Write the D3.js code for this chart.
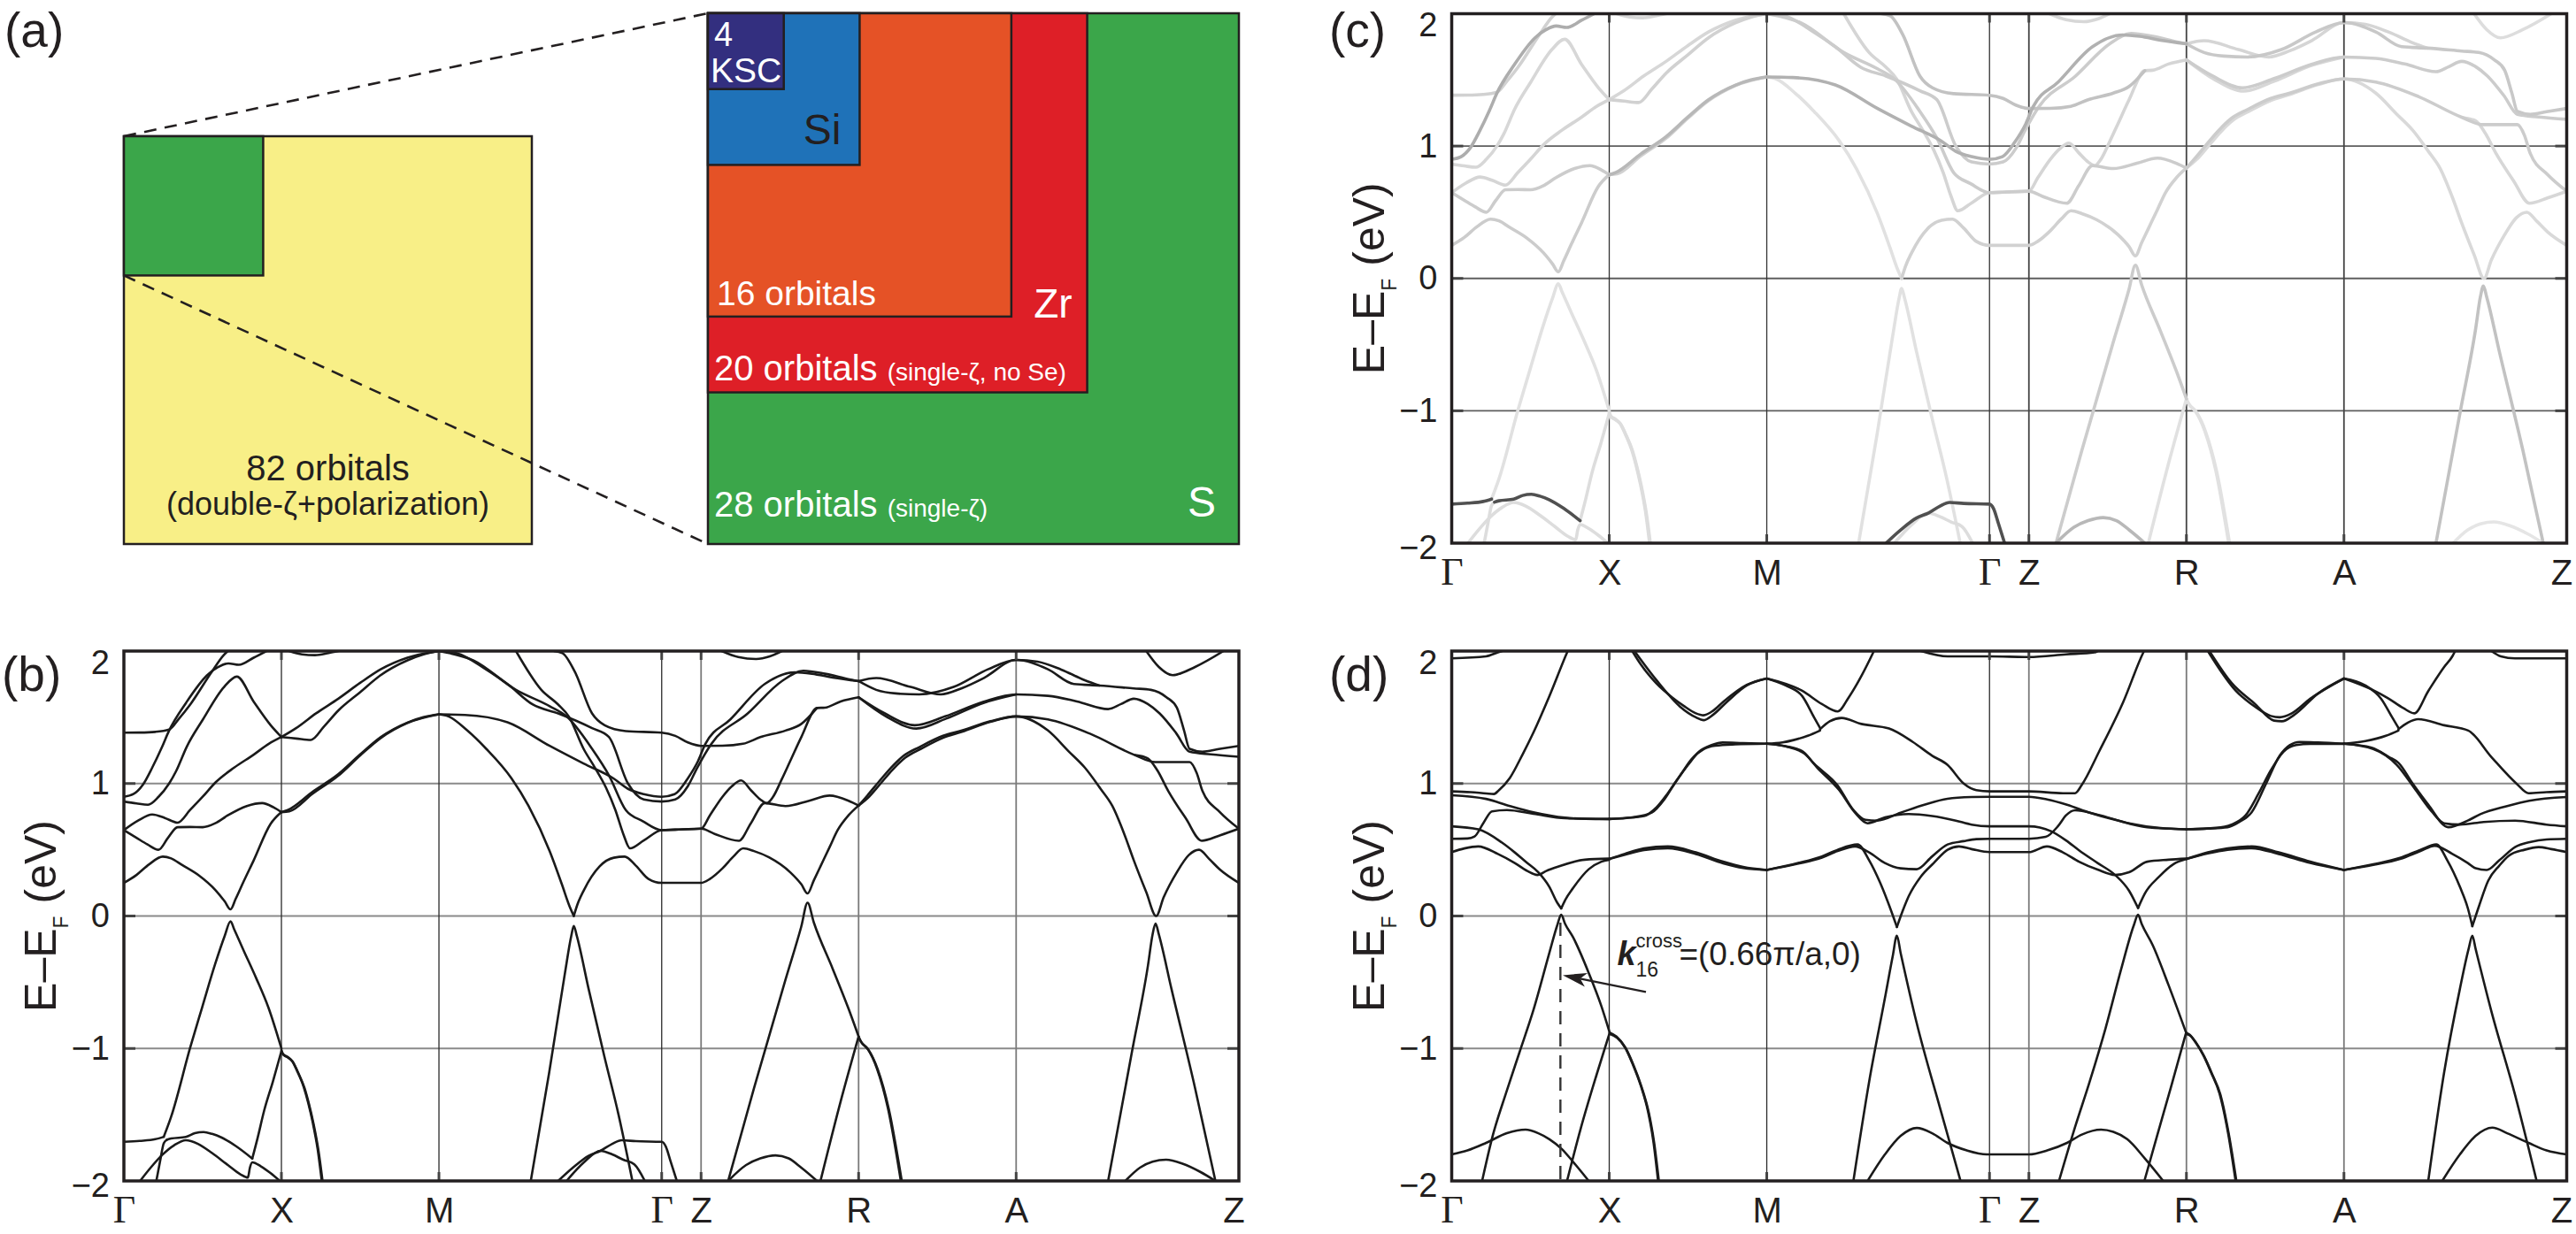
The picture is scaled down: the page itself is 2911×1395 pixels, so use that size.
<!DOCTYPE html>
<html><head><meta charset="utf-8">
<script src="https://cdn.jsdelivr.net/npm/d3@7/dist/d3.min.js"></script>
<style>
html,body{margin:0;padding:0;background:#fff;}
svg{display:block;}
</style></head><body>
<svg id="fig" width="2911" height="1395"></svg>
<script>
// ---------------- DATA ----------------
// k-path (in units of pi/a): Γ X M Γ Z R A Z
const kTicks  = [0, 1, 2, 3.414, 3.664, 4.664, 5.664, 7.078];
const kLabels = ["Γ","X","M","Γ","Z","R","A","Z"];
const eTicks  = [-2, -1, 0, 1, 2];
const eLabels = ["−2","−1","0","1","2"];

// panel (a): nested orbital blocks (number of orbitals per block)
const blockOrbitals = [28, 20, 16, 8, 4];
const blockColors   = ["#3ba64a", "#de1f27", "#e55226", "#1f72b8", "#332f7f"];
const totalOrbitals = 82;
const selectedOrbitals = 28;

// panel (b): bands [k, E-EF (eV)]
const bandsB = [
 [[0,-1.705],[0.1,-1.698],[0.2,-1.685],[0.253,-1.667]],
 [[0.253,-1.667],[0.30,-1.515],[0.421,-0.993],[0.496,-0.693],[0.58,-0.36],[0.64,-0.15],[0.677,-0.04],[0.70,-0.10],[0.76,-0.26],[0.84,-0.47],[0.918,-0.693],[1.0,-1.0]],
 [[1.0,-1.01],[1.011,-1.045],[1.035,-1.06],[1.067,-1.093],[1.10,-1.17],[1.142,-1.293],[1.17,-1.41],[1.199,-1.56],[1.23,-1.76],[1.256,-2.0]],
 [[1.0,-1.02],[1.015,-1.05],[1.04,-1.068],[1.072,-1.10],[1.105,-1.18],[1.147,-1.30],[1.175,-1.42],[1.204,-1.57],[1.235,-1.77],[1.261,-2.0]],
 [[0.206,-2.0],[0.23,-1.85],[0.253,-1.716],[0.272,-1.69]],
 [[0.272,-1.69],[0.30,-1.68],[0.393,-1.668],[0.45,-1.64],[0.506,-1.631],[0.56,-1.645],[0.618,-1.671],[0.712,-1.738],[0.815,-1.831]],
 [[0.815,-1.831],[0.85,-1.67],[0.89,-1.471],[0.946,-1.249],[1.0,-1.02]],
 [[0.103,-2.0],[0.17,-1.90],[0.243,-1.804],[0.32,-1.73],[0.393,-1.693],[0.47,-1.72],[0.56,-1.79],[0.66,-1.88],[0.74,-1.95],[0.787,-1.975],[0.80,-1.90],[0.815,-1.86],[0.87,-1.89],[0.93,-1.94],[0.99,-2.0]],
 [[0,0.25],[0.08,0.31],[0.16,0.39],[0.247,0.448],[0.30,0.435],[0.368,0.386],[0.475,0.307],[0.583,0.193],[0.64,0.11],[0.677,0.05],[0.71,0.13],[0.76,0.26],[0.824,0.42],[0.93,0.693],[1.0,0.784]],
 [[0,0.648],[0.08,0.59],[0.15,0.54],[0.22,0.50],[0.28,0.59],[0.341,0.67],[0.42,0.672],[0.5,0.67],[0.58,0.70],[0.66,0.76],[0.78,0.83],[0.878,0.852],[0.95,0.82],[1.0,0.784]],
 [[0,0.648],[0.09,0.72],[0.18,0.766],[0.26,0.74],[0.341,0.705],[0.42,0.80],[0.50,0.90],[0.583,1.01],[0.70,1.12],[0.824,1.218],[0.92,1.30],[1.0,1.351]],
 [[0,0.90],[0.06,0.92],[0.12,0.99],[0.18,1.12],[0.24,1.27],[0.287,1.40],[0.395,1.61],[0.529,1.818],[0.60,1.88],[0.663,1.907],[0.73,1.896],[0.824,1.95],[0.905,2.0]],
 [[0,0.864],[0.08,0.85],[0.153,0.84],[0.22,0.90],[0.287,1.0],[0.33,1.09],[0.40,1.28],[0.502,1.484],[0.636,1.729],[0.717,1.807],[0.824,1.618],[0.932,1.44],[1.0,1.351]],
 [[0,1.384],[0.1,1.385],[0.2,1.39],[0.287,1.407],[0.35,1.49],[0.421,1.596],[0.556,1.84],[0.636,1.973],[0.66,2.0]],
 [[1.0,0.784],[1.04,0.80],[1.2,0.94],[1.36,1.07],[1.5,1.22],[1.63,1.35],[1.8,1.46],[1.9,1.50],[2.0,1.522]],
 [[1.0,0.784],[1.05,0.79],[1.2,0.925],[1.36,1.058],[1.5,1.212],[1.63,1.343],[1.8,1.457],[2.0,1.522]],
 [[1.0,1.351],[1.093,1.418],[1.22,1.53],[1.361,1.64],[1.5,1.76],[1.63,1.862],[1.8,1.95],[2.0,2.0]],
 [[1.0,1.351],[1.093,1.34],[1.187,1.329],[1.27,1.43],[1.361,1.551],[1.5,1.69],[1.63,1.818],[1.8,1.93],[1.898,1.973],[2.0,2.0]],
 [[1.05,2.0],[1.13,1.975],[1.213,1.969],[1.3,1.985],[1.36,2.0]],
 [[2.0,1.522],[2.06,1.507],[2.18,1.40],[2.30,1.262],[2.46,1.04],[2.569,0.83],[2.703,0.489],[2.78,0.24],[2.83,0.07],[2.856,0.0]],
 [[2.856,0.0],[2.88,0.09],[2.92,0.195],[3.02,0.375],[3.11,0.44],[3.179,0.448],[3.25,0.38],[3.33,0.28],[3.414,0.25],[3.55,0.25],[3.664,0.25],[3.72,0.28],[3.8,0.36],[3.87,0.45],[3.932,0.511],[4.0,0.49],[4.095,0.443],[4.23,0.33],[4.30,0.24],[4.34,0.17],[4.38,0.27],[4.422,0.375],[4.48,0.52],[4.531,0.648],[4.60,0.76],[4.664,0.834]],
 [[2.0,1.522],[2.166,1.518],[2.435,1.462],[2.703,1.284],[2.918,1.151],[3.106,1.04],[3.2,0.96],[3.3,0.92],[3.414,0.90],[3.496,0.92],[3.577,1.034],[3.645,1.17],[3.69,1.296],[3.85,1.484],[4.068,1.751],[4.259,1.84],[4.368,1.829],[4.50,1.80],[4.664,1.773]],
 [[2.0,2.0],[2.22,1.929],[2.489,1.707],[2.703,1.584],[2.81,1.507],[2.972,1.262],[3.08,1.06],[3.186,0.80],[3.294,0.716],[3.414,0.648],[3.5,0.652],[3.664,0.659],[3.75,0.62],[3.904,0.568],[3.98,0.70],[4.068,0.852],[4.2,0.83],[4.35,0.87],[4.48,0.909],[4.6,0.87],[4.664,0.834]],
 [[2.489,2.0],[2.65,1.707],[2.757,1.596],[2.824,1.507],[2.918,1.262],[2.99,1.12],[3.06,0.97],[3.12,0.80],[3.17,0.62],[3.213,0.511],[3.30,0.57],[3.414,0.648],[3.5,0.652],[3.664,0.659],[3.72,0.76],[3.80,0.90],[3.86,0.98],[3.918,1.023],[3.98,0.95],[4.04,0.88],[4.082,0.852],[4.12,0.898],[4.177,1.034],[4.23,1.17],[4.30,1.35],[4.40,1.57],[4.45,1.573],[4.55,1.62],[4.664,1.651]],
 [[2.0,2.0],[2.113,1.984],[2.3,1.86],[2.435,1.751],[2.596,1.596],[2.757,1.529],[2.972,1.418],[3.079,1.351],[3.2,1.0],[3.3,0.88],[3.414,0.864],[3.50,0.88],[3.58,0.98],[3.64,1.12],[3.727,1.296],[3.96,1.529],[4.177,1.773],[4.313,1.851],[4.45,1.829],[4.613,1.784],[4.664,1.773]],
 [[2.73,2.0],[2.784,1.984],[2.864,1.84],[2.972,1.529],[3.052,1.44],[3.186,1.396],[3.414,1.384],[3.5,1.36],[3.58,1.31],[3.664,1.284],[3.80,1.285],[3.93,1.30],[4.04,1.35],[4.20,1.40],[4.30,1.45],[4.40,1.57]],
 [[3.795,2.0],[3.90,1.955],[4.013,1.94],[4.10,1.96],[4.177,2.0]],
 [[2.757,-2.0],[2.85,-1.90],[2.95,-1.81],[3.025,-1.773],[3.10,-1.72],[3.16,-1.693],[3.25,-1.70],[3.414,-1.705],[3.44,-1.74],[3.47,-1.85],[3.51,-2.0]],
 [[2.81,-2.0],[2.92,-1.86],[3.025,-1.773],[3.10,-1.80],[3.17,-1.84],[3.24,-1.875],[3.307,-2.0]],
 [[2.583,-2.0],[2.70,-1.18],[2.80,-0.43],[2.84,-0.15],[2.856,-0.075],[2.875,-0.15],[2.95,-0.55],[3.05,-1.06],[3.14,-1.50],[3.228,-2.0]],
 [[3.836,-2.0],[4.0,-1.30],[4.2,-0.48],[4.30,-0.08],[4.34,0.10],[4.38,-0.05],[4.5,-0.40],[4.6,-0.70],[4.664,-0.91]],
 [[4.664,-0.91],[4.68,-0.95],[4.72,-1.0],[4.78,-1.15],[4.85,-1.45],[4.932,-2.0]],
 [[4.664,-0.92],[4.686,-0.96],[4.726,-1.01],[4.786,-1.16],[4.856,-1.46],[4.938,-2.0]],
 [[4.422,-2.0],[4.55,-1.40],[4.664,-0.91]],
 [[3.836,-2.0],[3.95,-1.88],[4.04,-1.83],[4.136,-1.807],[4.22,-1.83],[4.30,-1.90],[4.40,-2.0]],
 [[6.248,-2.0],[6.40,-1.02],[6.50,-0.38],[6.53,-0.14],[6.549,-0.057],[6.57,-0.14],[6.65,-0.55],[6.80,-1.30],[6.929,-2.0]],
 [[6.357,-2.0],[6.45,-1.90],[6.53,-1.855],[6.616,-1.84],[6.72,-1.87],[6.83,-1.93],[6.929,-2.0]],
 [[4.664,1.773],[4.776,1.707],[4.9,1.68],[5.049,1.673],[5.267,1.729],[5.485,1.862],[5.664,1.933],[5.866,1.862],[6.03,1.751],[6.193,1.74],[6.411,1.718],[6.52,1.707],[6.62,1.65],[6.684,1.573],[6.73,1.40],[6.765,1.262],[6.847,1.24],[6.95,1.26],[7.078,1.284]],
 [[4.664,1.773],[4.776,1.796],[4.994,1.729],[5.185,1.673],[5.32,1.72],[5.458,1.796],[5.664,1.933],[5.80,1.92],[5.95,1.86],[6.10,1.78],[6.193,1.74]],
 [[4.664,1.651],[4.831,1.529],[5.02,1.44],[5.213,1.507],[5.458,1.618],[5.664,1.673],[5.866,1.662],[6.05,1.62],[6.248,1.562],[6.33,1.60],[6.411,1.64],[6.50,1.60],[6.575,1.529],[6.68,1.38],[6.765,1.24],[6.9,1.22],[7.078,1.202]],
 [[4.664,1.651],[4.84,1.505],[5.03,1.415],[5.22,1.49],[5.46,1.61],[5.664,1.673]],
 [[4.664,0.834],[4.72,0.91],[4.79,1.01],[4.87,1.12],[4.95,1.21],[5.05,1.275],[5.2,1.36],[5.32,1.40],[5.5,1.47],[5.664,1.507],[5.866,1.484],[6.139,1.373],[6.411,1.218],[6.547,1.162],[6.765,1.162],[6.81,1.08],[6.847,0.943],[6.956,0.786],[7.078,0.659]],
 [[4.664,0.834],[4.73,0.90],[4.80,0.995],[4.88,1.105],[4.96,1.195],[5.06,1.262],[5.2,1.345],[5.32,1.39],[5.5,1.465],[5.664,1.507],[5.866,1.40],[6.0,1.24],[6.1,1.12],[6.2,0.96],[6.275,0.83],[6.35,0.62],[6.411,0.42],[6.49,0.18],[6.553,0.0],[6.6,0.14],[6.684,0.33],[6.76,0.46],[6.825,0.50],[6.89,0.43],[6.956,0.352],[7.078,0.25]],
 [[6.42,1.215],[6.50,1.19],[6.56,1.10],[6.63,0.943],[6.74,0.739],[6.842,0.568],[6.96,0.61],[7.078,0.659]],
 [[6.49,2.0],[6.57,1.88],[6.657,1.818],[6.80,1.88],[6.98,2.0]]
];

// panel (c): projected weight (0..1) of each band of panel (b)
const weightsC = [0.8,0.1,0.12,0.12,0.12,0.8,0.12,0.12,0.2,0.2,0.16,0.35,0.15,0.18,0.3,0.18,0.15,0.18,0.15,0.1,0.18,0.33,0.2,0.16,0.2,0.25,0.15,0.8,0.12,0.1,0.2,0.1,0.1,0.1,0.3,0.25,0.08,0.22,0.16,0.2,0.15,0.2,0.14,0.15,0.12];

// panel (d): bands [k, E-EF (eV)]
const bandsD = [
 [[0,1.945],[0.218,1.96],[0.293,1.99],[0.32,2.0]],
 [[0,0.941],[0.12,0.935],[0.22,0.925],[0.268,0.921],[0.30,0.95],[0.369,1.042],[0.45,1.22],[0.519,1.386],[0.62,1.66],[0.732,1.989],[0.736,2.0]],
 [[0,0.912],[0.218,0.884],[0.37,0.83],[0.519,0.783],[0.72,0.742],[0.85,0.734],[1.0,0.732]],
 [[0,0.583],[0.10,0.585],[0.145,0.60],[0.20,0.70],[0.256,0.79],[0.35,0.80],[0.519,0.772],[0.72,0.738],[1.0,0.732]],
 [[0,0.677],[0.168,0.654],[0.319,0.554],[0.40,0.48],[0.469,0.41],[0.55,0.33],[0.62,0.22],[0.67,0.10],[0.695,0.057]],
 [[0.695,0.057],[0.72,0.12],[0.77,0.21],[0.87,0.353],[0.95,0.41],[1.0,0.425]],
 [[0,0.482],[0.08,0.51],[0.168,0.525],[0.293,0.468],[0.40,0.40],[0.48,0.34],[0.544,0.31],[0.60,0.34],[0.67,0.37],[0.845,0.425],[1.0,0.433]],
 [[1.0,0.43],[1.1,0.47],[1.221,0.51],[1.372,0.525],[1.55,0.48],[1.723,0.41],[1.85,0.37],[2.0,0.347]],
 [[1.0,0.43],[1.1,0.462],[1.221,0.498],[1.372,0.511],[1.55,0.468],[1.723,0.398],[1.85,0.362],[2.0,0.347]],
 [[1.0,0.732],[1.1,0.74],[1.221,0.755],[1.30,0.82],[1.372,0.927],[1.45,1.06],[1.523,1.185],[1.60,1.26],[1.673,1.285],[1.8,1.295],[2.0,1.30]],
 [[1.0,0.732],[1.15,0.745],[1.27,0.78],[1.35,0.88],[1.42,1.01],[1.50,1.14],[1.57,1.24],[1.65,1.29],[1.72,1.31],[1.85,1.305],[2.0,1.30]],
 [[1.146,2.0],[1.2,1.90],[1.297,1.759],[1.40,1.65],[1.472,1.587],[1.55,1.53],[1.598,1.515],[1.66,1.55],[1.723,1.616],[1.873,1.745],[2.0,1.793]],
 [[1.16,2.0],[1.3,1.78],[1.45,1.58],[1.55,1.50],[1.598,1.478],[1.66,1.52],[1.75,1.62],[1.873,1.74],[2.0,1.793]],
 [[2.0,1.793],[2.225,1.70],[2.35,1.60],[2.45,1.544],[2.52,1.65],[2.576,1.759],[2.676,1.99],[2.68,2.0]],
 [[2.0,1.793],[2.12,1.74],[2.225,1.66],[2.30,1.50],[2.338,1.42]],
 [[2.0,1.30],[2.10,1.31],[2.17,1.328],[2.26,1.36],[2.338,1.40]],
 [[2.338,1.41],[2.40,1.47],[2.475,1.495],[2.60,1.45],[2.776,1.415],[2.927,1.314],[3.05,1.21],[3.148,1.14],[3.25,1.00],[3.33,0.95],[3.414,0.941],[3.664,0.941],[3.88,0.927],[3.957,0.927],[4.0,0.99],[4.11,1.242],[4.263,1.616],[4.39,1.988],[4.395,2.0]],
 [[2.0,1.30],[2.1,1.285],[2.225,1.244],[2.30,1.15],[2.45,0.985],[2.55,0.80],[2.626,0.726],[2.70,0.72],[2.85,0.78],[3.0,0.84],[3.147,0.885],[3.3,0.898],[3.414,0.90],[3.664,0.90],[3.78,0.88],[3.906,0.84],[4.05,0.78],[4.211,0.726],[4.415,0.669],[4.664,0.654]],
 [[2.0,1.30],[2.12,1.28],[2.24,1.225],[2.32,1.12],[2.46,0.95],[2.56,0.78],[2.64,0.70],[2.75,0.745],[2.9,0.77],[3.05,0.755],[3.2,0.72],[3.30,0.69],[3.414,0.677],[3.664,0.677],[3.804,0.64],[3.90,0.57],[3.982,0.496],[4.10,0.40],[4.211,0.31],[4.30,0.19],[4.357,0.06]],
 [[2.0,0.347],[2.2,0.40],[2.35,0.45],[2.45,0.50],[2.576,0.54],[2.65,0.42],[2.72,0.25],[2.78,0.07],[2.826,-0.083]],
 [[2.826,-0.083],[2.86,0.03],[2.902,0.152],[2.977,0.296],[3.06,0.40],[3.148,0.50],[3.22,0.525],[3.30,0.505],[3.414,0.482],[3.664,0.482],[3.778,0.525],[3.88,0.48],[3.982,0.41],[4.1,0.35],[4.211,0.31],[4.30,0.33],[4.415,0.41],[4.55,0.425],[4.664,0.433]],
 [[2.0,0.347],[2.2,0.395],[2.35,0.44],[2.45,0.49],[2.56,0.525],[2.65,0.48],[2.75,0.40],[2.85,0.36],[2.952,0.353],[3.05,0.45],[3.148,0.54],[3.25,0.565],[3.33,0.58],[3.414,0.583],[3.664,0.583],[3.77,0.597],[3.85,0.68],[3.90,0.76],[3.957,0.798],[4.1,0.765],[4.3,0.70],[4.5,0.664],[4.664,0.654]],
 [[4.357,0.06],[4.40,0.17],[4.49,0.296],[4.58,0.39],[4.664,0.43]],
 [[2.55,-2.0],[2.65,-1.25],[2.75,-0.62],[2.80,-0.30],[2.826,-0.149],[2.85,-0.28],[2.95,-0.80],[3.10,-1.45],[3.23,-2.0]],
 [[2.64,-2.0],[2.75,-1.80],[2.85,-1.66],[2.952,-1.60],[3.05,-1.64],[3.147,-1.713],[3.27,-1.77],[3.396,-1.80],[3.664,-1.80],[3.78,-1.77],[3.906,-1.713],[4.0,-1.65],[4.122,-1.613],[4.2,-1.63],[4.288,-1.685],[4.40,-1.83],[4.517,-2.0]],
 [[0,-1.80],[0.1,-1.77],[0.218,-1.713],[0.35,-1.64],[0.469,-1.613],[0.55,-1.64],[0.62,-1.685],[0.70,-1.76],[0.77,-1.855],[0.87,-2.0]],
 [[0.193,-2.0],[0.26,-1.66],[0.344,-1.34],[0.43,-1.03],[0.519,-0.709],[0.62,-0.278],[0.67,-0.07],[0.695,0.009],[0.72,-0.06],[0.77,-0.16],[0.87,-0.43],[0.95,-0.68],[1.003,-0.881]],
 [[1.003,-0.881],[1.046,-0.91],[1.1,-0.99],[1.146,-1.11],[1.2,-1.28],[1.247,-1.48],[1.28,-1.70],[1.31,-2.0]],
 [[1.003,-0.89],[1.05,-0.92],[1.105,-1.0],[1.152,-1.12],[1.205,-1.29],[1.252,-1.49],[1.285,-1.71],[1.315,-2.0]],
 [[0.732,-2.0],[0.82,-1.6],[0.92,-1.197],[1.003,-0.881]],
 [[2.98,2.0],[3.148,1.96],[3.414,1.96],[3.664,1.955],[3.90,1.975],[4.08,1.99],[4.1,2.0]],
 [[4.664,0.43],[4.8,0.48],[4.925,0.51],[5.078,0.525],[5.25,0.48],[5.45,0.41],[5.664,0.347]],
 [[4.664,0.43],[4.8,0.472],[4.925,0.50],[5.078,0.512],[5.25,0.468],[5.45,0.40],[5.664,0.347]],
 [[4.664,0.654],[4.8,0.66],[4.925,0.67],[5.0,0.71],[5.078,0.783],[5.17,1.0],[5.256,1.21],[5.32,1.29],[5.383,1.314],[5.5,1.31],[5.664,1.30]],
 [[4.664,0.654],[4.85,0.665],[4.95,0.69],[5.04,0.76],[5.12,0.92],[5.20,1.10],[5.28,1.24],[5.36,1.29],[5.45,1.30],[5.664,1.30]],
 [[4.80,2.0],[4.976,1.702],[5.10,1.58],[5.20,1.51],[5.256,1.50],[5.333,1.53],[5.45,1.64],[5.664,1.793]],
 [[4.81,2.0],[4.95,1.76],[5.10,1.60],[5.22,1.475],[5.27,1.47],[5.35,1.52],[5.50,1.68],[5.664,1.793]],
 [[5.664,1.793],[5.84,1.71],[5.944,1.644],[6.04,1.57],[6.11,1.53],[6.20,1.70],[6.30,1.88],[6.352,1.96],[6.37,2.0]],
 [[5.664,1.793],[5.80,1.74],[5.90,1.64],[5.97,1.50],[6.01,1.42]],
 [[5.664,1.30],[5.80,1.32],[5.93,1.36],[6.01,1.40]],
 [[6.01,1.41],[6.07,1.46],[6.135,1.486],[6.30,1.44],[6.453,1.40],[6.60,1.20],[6.76,0.999],[6.836,0.927],[6.95,0.935],[7.078,0.941]],
 [[5.664,1.30],[5.84,1.27],[5.95,1.20],[6.01,1.156],[6.10,1.00],[6.2,0.84],[6.326,0.67],[6.45,0.72],[6.53,0.769],[6.70,0.83],[6.84,0.87],[7.078,0.898]],
 [[5.664,1.30],[5.85,1.26],[6.0,1.14],[6.12,0.95],[6.22,0.79],[6.30,0.70],[6.40,0.69],[6.55,0.71],[6.75,0.72],[6.95,0.69],[7.078,0.677]],
 [[5.664,0.347],[5.85,0.39],[6.02,0.439],[6.15,0.50],[6.25,0.54],[6.32,0.42],[6.40,0.22],[6.45,0.06],[6.479,-0.077]],
 [[6.479,-0.077],[6.52,0.07],[6.58,0.267],[6.65,0.38],[6.708,0.453],[6.81,0.50],[6.90,0.52],[6.98,0.505],[7.078,0.482]],
 [[5.664,0.347],[5.85,0.385],[6.02,0.43],[6.15,0.49],[6.24,0.53],[6.35,0.47],[6.45,0.40],[6.50,0.36],[6.57,0.347],[6.65,0.42],[6.75,0.52],[6.85,0.56],[6.95,0.578],[7.078,0.583]],
 [[6.199,-2.0],[6.30,-1.18],[6.40,-0.55],[6.455,-0.25],[6.479,-0.149],[6.50,-0.25],[6.60,-0.72],[6.75,-1.35],[6.887,-2.0]],
 [[6.288,-2.0],[6.40,-1.80],[6.50,-1.66],[6.606,-1.598],[6.70,-1.64],[6.836,-1.713],[6.95,-1.77],[7.078,-1.80]],
 [[3.855,-2.0],[3.95,-1.62],[4.05,-1.25],[4.15,-0.85],[4.25,-0.40],[4.33,-0.07],[4.357,0.009],[4.38,-0.06],[4.45,-0.22],[4.55,-0.52],[4.662,-0.881]],
 [[4.662,-0.881],[4.683,-0.895],[4.72,-0.95],[4.772,-1.053],[4.82,-1.18],[4.874,-1.34],[4.93,-1.65],[4.976,-2.0]],
 [[4.662,-0.89],[4.69,-0.905],[4.727,-0.96],[4.778,-1.063],[4.826,-1.19],[4.88,-1.35],[4.935,-1.66],[4.981,-2.0]],
 [[4.397,-2.0],[4.48,-1.65],[4.568,-1.283],[4.662,-0.881]],
 [[6.60,2.0],[6.66,1.96],[6.75,1.945],[7.078,1.945]]
];

// panel (d) annotation: crossing point of band 16
const crossK = 0.69;
const crossTopE = -0.05;
const arrowTail = [1.233, -0.573];
const arrowTip  = [0.705, -0.447];
const crossLabelAt = [1.05, -0.37];

// ---------------- DRAWING ----------------
const SANS = "'Liberation Sans', Arial, Helvetica, sans-serif";
const SERIF = "'Liberation Serif', 'Times New Roman', serif";
const INK = "#231f20";
const svg = d3.select("#fig");
const defs = svg.append("defs");

// ---- panel (a) ----
(function(){
  const gA = svg.append("g");
  const L0 = [140, 154];
  const sL = d3.scaleLinear().domain([0, totalOrbitals]).range([0, 461]);
  gA.append("rect").attr("x", L0[0]).attr("y", L0[1]).attr("width", sL(totalOrbitals)).attr("height", sL(totalOrbitals))
    .attr("fill", "#f8ef87").attr("stroke", INK).attr("stroke-width", 2.5);
  gA.append("rect").attr("x", L0[0]).attr("y", L0[1]).attr("width", sL(selectedOrbitals)).attr("height", sL(selectedOrbitals))
    .attr("fill", blockColors[0]).attr("stroke", INK).attr("stroke-width", 2.5);

  const R0 = [800, 15];
  const sR = d3.scaleLinear().domain([0, blockOrbitals[0]]).range([0, 600]);
  gA.selectAll("rect.blk").data(blockOrbitals).join("rect").attr("class","blk")
    .attr("x", R0[0]).attr("y", R0[1]).attr("width", d => sR(d)).attr("height", d => sR(d))
    .attr("fill", (d,i) => blockColors[i]).attr("stroke", INK).attr("stroke-width", 2.5);

  const dl = [[L0[0], L0[1], R0[0], R0[1]], [L0[0], L0[1]+sL(selectedOrbitals), R0[0], R0[1]+sR(blockOrbitals[0])]];
  gA.selectAll("line.dz").data(dl).join("line").attr("class","dz")
    .attr("x1", d=>d[0]).attr("y1", d=>d[1]).attr("x2", d=>d[2]).attr("y2", d=>d[3])
    .attr("stroke", INK).attr("stroke-width", 2.6).attr("stroke-dasharray", "14,9.5");

  const T = (x, y, s, txt, fill, anchor) => gA.append("text").attr("x", x).attr("y", y).attr("font-size", s)
      .attr("font-family", SANS).attr("fill", fill).attr("text-anchor", anchor || "start").text(txt);
  const bx = d => R0[0] + sR(d);
  const by = d => R0[1] + sR(d);
  T(R0[0]+7, R0[1]+37, 38, "4", "#fff");
  T(R0[0]+3, R0[1]+78, 39, "KSC", "#fff");
  T(bx(8)-21, by(8)-23, 48, "Si", INK, "end");
  T(R0[0]+10, by(16)-13, 39, "16 orbitals", "#fff");
  T(bx(20)-17, by(16)+1, 46, "Zr", "#fff", "end");
  const t20 = T(R0[0]+7, by(20)-14, 40, "20 orbitals ", "#fff");
  t20.append("tspan").attr("font-size", 28).text("(single-ζ, no Se)");
  const t28 = T(R0[0]+7, by(28)-31, 40, "28 orbitals ", "#fff");
  t28.append("tspan").attr("font-size", 28).text("(single-ζ)");
  T(bx(28)-26, by(28)-31, 48, "S", "#fff", "end");
  T(L0[0]+sL(totalOrbitals)/2, 543, 40, "82 orbitals", INK, "middle");
  T(L0[0]+sL(totalOrbitals)/2, 582, 36, "(double-ζ+polarization)", INK, "middle");
})();

// ---- band panels ----
function drawPanel(p, bands, opt){
  const x = d3.scaleLinear().domain([kTicks[0], kTicks[kTicks.length-1]]).range([p.x0, p.x1]);
  const y = d3.scaleLinear().domain([eTicks[0], eTicks[eTicks.length-1]]).range([p.y1, p.y0]);
  const g = svg.append("g");
  const cid = "clip-" + p.id;
  defs.append("clipPath").attr("id", cid).append("rect")
    .attr("x", p.x0).attr("y", p.y0).attr("width", p.x1-p.x0).attr("height", p.y1-p.y0);

  g.append("g").selectAll("line").data(eTicks.slice(1,-1)).join("line")
    .attr("x1", p.x0).attr("x2", p.x1).attr("y1", d=>y(d)).attr("y2", d=>y(d))
    .attr("stroke", opt.hgrid).attr("stroke-width", opt.hgridW);
  g.append("g").selectAll("line").data(kTicks.slice(1,-1)).join("line")
    .attr("x1", d=>x(d)).attr("x2", d=>x(d)).attr("y1", p.y0).attr("y2", p.y1)
    .attr("stroke", (d,i)=> i<3 ? opt.vgridA : opt.vgridB)
    .attr("stroke-width", (d,i)=> i<3 ? 1.3 : 1.8);

  const line = d3.line().x(d=>x(d[0])).y(d=>y(d[1])).curve(d3.curveMonotoneX);
  const order = d3.range(bands.length).sort((a,b)=>opt.rank(a)-opt.rank(b));
  g.append("g").attr("clip-path", `url(#${cid})`).selectAll("path").data(order).join("path")
    .attr("d", i=>line(bands[i])).attr("fill","none")
    .attr("stroke", i=>opt.color(i)).attr("stroke-width", opt.bw)
    .attr("stroke-linejoin","round").attr("stroke-linecap","round");

  const tl = 13;
  const tk = g.append("g").attr("stroke", "#444").attr("stroke-width", 3);
  eTicks.slice(1,-1).forEach(e=>{
    tk.append("line").attr("x1", p.x0).attr("x2", p.x0+tl).attr("y1", y(e)).attr("y2", y(e));
    tk.append("line").attr("x1", p.x1-tl).attr("x2", p.x1).attr("y1", y(e)).attr("y2", y(e));
  });
  kTicks.slice(1,-1).forEach(k=>{
    tk.append("line").attr("x1", x(k)).attr("x2", x(k)).attr("y1", p.y0).attr("y2", p.y0+10);
    tk.append("line").attr("x1", x(k)).attr("x2", x(k)).attr("y1", p.y1-10).attr("y2", p.y1);
  });

  g.append("rect").attr("x", p.x0).attr("y", p.y0).attr("width", p.x1-p.x0).attr("height", p.y1-p.y0)
    .attr("fill","none").attr("stroke", INK).attr("stroke-width", 3.5);

  const ya = d3.axisLeft(y).tickValues(eTicks).tickFormat((d,i)=>eLabels[i]).tickSize(0).tickPadding(16);
  const gy = g.append("g").attr("transform", `translate(${p.x0},0)`).call(ya)
    .attr("font-family", SANS).attr("font-size", 38);
  gy.select(".domain").remove();
  gy.selectAll("text").attr("fill", INK);
  gy.selectAll(".tick").filter(d=>d===2).select("text").attr("dy", "0.66em");
  gy.selectAll(".tick").filter(d=>d===-2).select("text").attr("dy", "0.45em");

  const xa = d3.axisBottom(x).tickValues(kTicks).tickFormat((d,i)=>kLabels[i]).tickSize(0).tickPadding(19);
  const gx = g.append("g").attr("transform", `translate(0,${p.y1})`).call(xa)
    .attr("font-family", SANS).attr("font-size", 40);
  gx.select(".domain").remove();
  gx.selectAll("text").attr("fill", INK);
  gx.selectAll(".tick text").filter(function(){ return this.textContent === "Γ"; })
    .attr("font-family", SERIF).attr("font-size", 44).attr("dy", "0.645em");
  // keep the last label inside the picture
  gx.selectAll(".tick").filter(d=>d===kTicks[kTicks.length-1]).select("text").attr("dx", -6);

  const t = g.append("text").attr("transform", `translate(${p.x0-77},${(p.y0+p.y1)/2}) rotate(-90)`)
    .attr("text-anchor","middle").attr("font-family", SANS).attr("font-size", 50).attr("fill", INK);
  t.append("tspan").text("E–E");
  t.append("tspan").attr("font-size", 23).attr("dy", 14).text("F");
  t.append("tspan").attr("dy", -14).text(" (eV)");

  g.append("text").attr("x", p.lx).attr("y", p.ly).attr("font-family", SANS).attr("font-size", 55)
    .attr("fill", INK).text(p.letter);
  return {x, y, g};
}

const PB = {id:"b", x0:140, x1:1400, y0:736, y1:1335, lx:2, ly:781, letter:"(b)"};
const PC = {id:"c", x0:1640.5, x1:2900.5, y0:15.5, y1:614, lx:1502, ly:53, letter:"(c)"};
const PD = {id:"d", x0:1640.5, x1:2900.5, y0:736, y1:1335, lx:1502, ly:781, letter:"(d)"};

svg.append("text").attr("x", 5).attr("y", 53).attr("font-family", SANS).attr("font-size", 55).attr("fill", INK).text("(a)");

const black = () => "#1a1a1a";
drawPanel(PB, bandsB, {hgrid:"#8a8a8a", hgridW:2.2, vgridA:"#2a2a2a", vgridB:"#7a7a7a", bw:2.6, color:black, rank:()=>0});

const greyScale = d3.interpolateRgb("#f6f6f6", "#262626");
drawPanel(PC, bandsB, {hgrid:"#5e5e5e", hgridW:1.8, vgridA:"#333", vgridB:"#444", bw:3.6,
  color:i=>greyScale(weightsC[i]), rank:i=>weightsC[i]});

const D = drawPanel(PD, bandsD, {hgrid:"#8a8a8a", hgridW:2.2, vgridA:"#2a2a2a", vgridB:"#7a7a7a", bw:2.6, color:black, rank:()=>0});

(function(){
  const {x, y, g} = D;
  g.append("line").attr("x1", x(crossK)).attr("x2", x(crossK)).attr("y1", y(crossTopE)).attr("y2", y(-2))
    .attr("stroke", "#333").attr("stroke-width", 2.4).attr("stroke-dasharray", "15,10");
  const x1 = x(arrowTail[0]), y1 = y(arrowTail[1]), x2 = x(arrowTip[0]), y2 = y(arrowTip[1]);
  const ang = Math.atan2(y2-y1, x2-x1);
  const L = 27, Wd = 8, N = 20;
  const ux = Math.cos(ang), uy = Math.sin(ang), px = -uy, py = ux;
  g.append("line").attr("x1", x1).attr("y1", y1).attr("x2", x2 - ux*N).attr("y2", y2 - uy*N)
    .attr("stroke", INK).attr("stroke-width", 2.4);
  g.append("path").attr("d", `M${x2},${y2} L${x2-ux*L+px*Wd},${y2-uy*L+py*Wd} L${x2-ux*N},${y2-uy*N} L${x2-ux*L-px*Wd},${y2-uy*L-py*Wd} Z`)
    .attr("fill", INK);
  const lx = x(crossLabelAt[0]), ly = y(crossLabelAt[1]);
  g.append("text").attr("x", lx).attr("y", ly).attr("font-family", SANS).attr("font-size", 38)
    .attr("font-weight","bold").attr("font-style","italic").attr("fill", INK).text("k");
  g.append("text").attr("x", lx+21).attr("y", ly-20).attr("font-family", SANS).attr("font-size", 22).attr("fill", INK).text("cross");
  g.append("text").attr("x", lx+21).attr("y", ly+13).attr("font-family", SANS).attr("font-size", 23).attr("fill", INK).text("16");
  g.append("text").attr("x", lx+70).attr("y", ly).attr("font-family", SANS).attr("font-size", 37).attr("fill", INK).text("=(0.66π/a,0)");
})();
</script>
</body></html>
